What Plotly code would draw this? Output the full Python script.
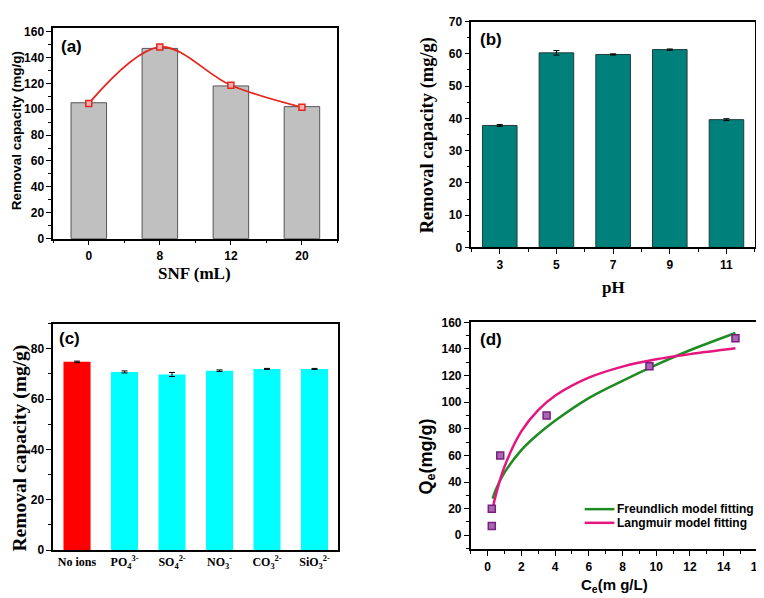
import plotly.graph_objects as go

W, H = 764, 598

# ---------------- data ----------------
# (a) SNF dosage
snf_labels = ["0", "8", "12", "20"]
snf_bar = [105, 147, 118, 102]
snf_point = [104.5, 148, 118.5, 101.5]

# (b) pH
ph_labels = ["3", "5", "7", "9", "11"]
ph_values = [37.8, 60.3, 59.8, 61.3, 39.6]
ph_err = [0.3, 0.7, 0.2, 0.2, 0.3]

# (c) coexisting ions
ion_labels = ["No ions", "PO<sub>4</sub><sup>3-</sup>", "SO<sub>4</sub><sup>2-</sup>",
              "NO<sub>3</sub><sup>-</sup>", "CO<sub>3</sub><sup>2-</sup>", "SiO<sub>3</sub><sup>2-</sup>"]
ion_values = [74.8, 70.8, 69.8, 71.3, 72.0, 72.0]
ion_err = [0.3, 0.4, 0.8, 0.3, 0.2, 0.2]
ion_colors = ["#FF0000", "#00FFFF", "#00FFFF", "#00FFFF", "#00FFFF", "#00FFFF"]

# (d) isotherm
ce_exp = [0.25, 0.25, 0.75, 3.5, 9.6, 14.7]
qe_exp = [7, 20, 60, 90, 127, 148]
ce_fit = [0.3, 0.5, 1, 2, 3, 4, 6, 8, 10, 12, 14.7]
qe_freundlich = [27.5, 34.6, 47, 64, 76, 86, 103, 116, 128, 139, 152]
qe_langmuir = [20, 30.7, 51.5, 78, 94, 104.8, 118.4, 126.7, 132.2, 136.1, 140.5]
fit_names = ["Freundlich model fitting", "Langmuir model fitting"]
fit_colors = ["#1E8B23", "#E5177F"]

SANS = "Liberation Sans, Arial, sans-serif"
SERIF = "Liberation Serif, Times New Roman, serif"


def dom_x(a, b):
    return [a / W, b / W]


def dom_y(top, bottom):
    return [1 - bottom / H, 1 - top / H]


fig = go.Figure()

# (a)
fig.add_trace(go.Bar(x=list(range(len(snf_labels))), y=snf_bar, width=0.5,
                     marker=dict(color="#C0C0C0", line=dict(color="#555555", width=1)),
                     xaxis="x", yaxis="y", showlegend=False))
fig.add_trace(go.Scatter(x=list(range(len(snf_labels))), y=snf_point, mode="lines+markers",
                         line=dict(color="#E4261F", width=1.8, shape="spline", smoothing=1.0),
                         marker=dict(symbol="square", size=6, color="#F7B0B0",
                                     line=dict(color="#E4261F", width=1.5)),
                         xaxis="x", yaxis="y", showlegend=False))

# (b)
fig.add_trace(go.Bar(x=list(range(len(ph_labels))), y=ph_values, width=0.61,
                     marker=dict(color="#00807B", line=dict(color="#1E3B3A", width=1)),
                     error_y=dict(type="data", array=ph_err, color="black", thickness=1, width=3),
                     xaxis="x2", yaxis="y2", showlegend=False))

# (c)
fig.add_trace(go.Bar(x=list(range(len(ion_labels))), y=ion_values, width=0.57,
                     marker=dict(color=ion_colors, line=dict(width=0)),
                     error_y=dict(type="data", array=ion_err, color="black", thickness=1, width=3),
                     xaxis="x3", yaxis="y3", showlegend=False))

# (d)
for yy, nm, col in zip([qe_freundlich, qe_langmuir], fit_names, fit_colors):
    fig.add_trace(go.Scatter(x=ce_fit, y=yy, mode="lines", name=nm,
                             line=dict(color=col, width=2.5, shape="spline"),
                             xaxis="x4", yaxis="y4", showlegend=False))
fig.add_trace(go.Scatter(x=ce_exp, y=qe_exp, mode="markers",
                         marker=dict(symbol="square", size=7, color="#A868B0",
                                     line=dict(color="#7A1E80", width=1.5)),
                         xaxis="x4", yaxis="y4", showlegend=False))

tickfont = dict(family=SANS, size=12, color="black", weight="bold")
common = dict(showline=True, linecolor="black", linewidth=1.6, mirror=True,
              showgrid=False, zeroline=False, ticks="outside", ticklen=5, tickwidth=1.3,
              tickcolor="black", tickfont=tickfont)
minor_y = lambda d: dict(ticks="outside", ticklen=3, tickwidth=1, tickcolor="black", dtick=d)

fig.update_layout(
    width=W, height=H, margin=dict(l=0, r=0, t=0, b=0),
    paper_bgcolor="white", plot_bgcolor="white", showlegend=False,
    xaxis=dict(domain=dom_x(45.7, 332.5), anchor="y", range=[-0.5, len(snf_labels) - 0.5],
               tickvals=list(range(len(snf_labels))), ticktext=snf_labels,
               minor=dict(ticks="outside", ticklen=3, tickwidth=1, tickcolor="black",
                          tick0=0.5, dtick=1), **common),
    yaxis=dict(domain=dom_y(13, 229), anchor="x", range=[0, 163], dtick=20,
               minor=minor_y(10), **common),
    xaxis2=dict(domain=dom_x(467.7, 753.7), anchor="y2", range=[-0.5, len(ph_labels) - 0.5],
                tickvals=list(range(len(ph_labels))), ticktext=ph_labels,
                minor=dict(ticks="outside", ticklen=3, tickwidth=1, tickcolor="black",
                           tick0=0.5, dtick=1), **common),
    yaxis2=dict(domain=dom_y(6.7, 238), anchor="x2", range=[0, 70], dtick=10,
                minor=minor_y(5), **common),
    xaxis3=dict(domain=dom_x(45.7, 333.3), anchor="y3", range=[-0.5, len(ion_labels) - 0.5],
                tickvals=list(range(len(ion_labels))), ticktext=ion_labels,
                **{**common, "ticks": "", "tickfont": dict(family=SERIF, size=12, color="black", weight="bold")}),
    yaxis3=dict(domain=dom_y(316, 548), anchor="x3", range=[0, 90], dtick=20,
                minor=minor_y(10), **common),
    xaxis4=dict(domain=dom_x(467, 756.3), anchor="y4", range=[-1, 16], dtick=2,
                minor=dict(ticks="outside", ticklen=3, tickwidth=1, tickcolor="black", dtick=1),
                **common),
    yaxis4=dict(domain=dom_y(314.7, 547.3), anchor="x4", range=[-10.7, 160], dtick=20,
                minor=minor_y(10), **common),
)

ann = []


def txt(x, y, text, size, family, angle=0, weight="bold", xanchor="center"):
    ann.append(dict(x=x / W, y=1 - y / H, xref="paper", yref="paper", text=text,
                    showarrow=False, textangle=angle, xanchor=xanchor, yanchor="middle",
                    font=dict(family=family, size=size, color="black", weight=weight)))


# panel labels
txt(64, 32, "(a)", 17, SANS)
txt(487.5, 25, "(b)", 17, SANS)
txt(62, 331, "(c)", 17, SANS)
txt(487, 332, "(d)", 17, SANS)

# axis titles
txt(8, 118, "Removal capacity (mg/g)", 13.5, SANS, -90)
txt(188, 265, "SNF (mL)", 17, SERIF)
txt(423, 123, "Removal capacity (mg/g)", 18.5, SERIF, -90)
txt(611, 279, "pH", 17, SERIF)
txt(12, 443, "Removal capacity (mg/g)", 19.5, SERIF, -90)
txt(423, 452, "Q<sub>e</sub>(mg/g)", 18, SANS, -90)
txt(612, 584, "C<sub>e</sub>(m g/L)", 15, SANS)

# legend of panel (d)
shapes = []
for i, (nm, col) in enumerate(zip(fit_names, fit_colors)):
    yrow = 506 + i * 14
    shapes.append(dict(type="line", xref="paper", yref="paper",
                       x0=582 / W, x1=612 / W, y0=1 - yrow / H, y1=1 - yrow / H,
                       line=dict(color=col, width=2.5)))
    txt(613, yrow, nm, 12, SANS, xanchor="left")

fig.update_layout(annotations=ann, shapes=shapes)
fig.write_html("out.html")
